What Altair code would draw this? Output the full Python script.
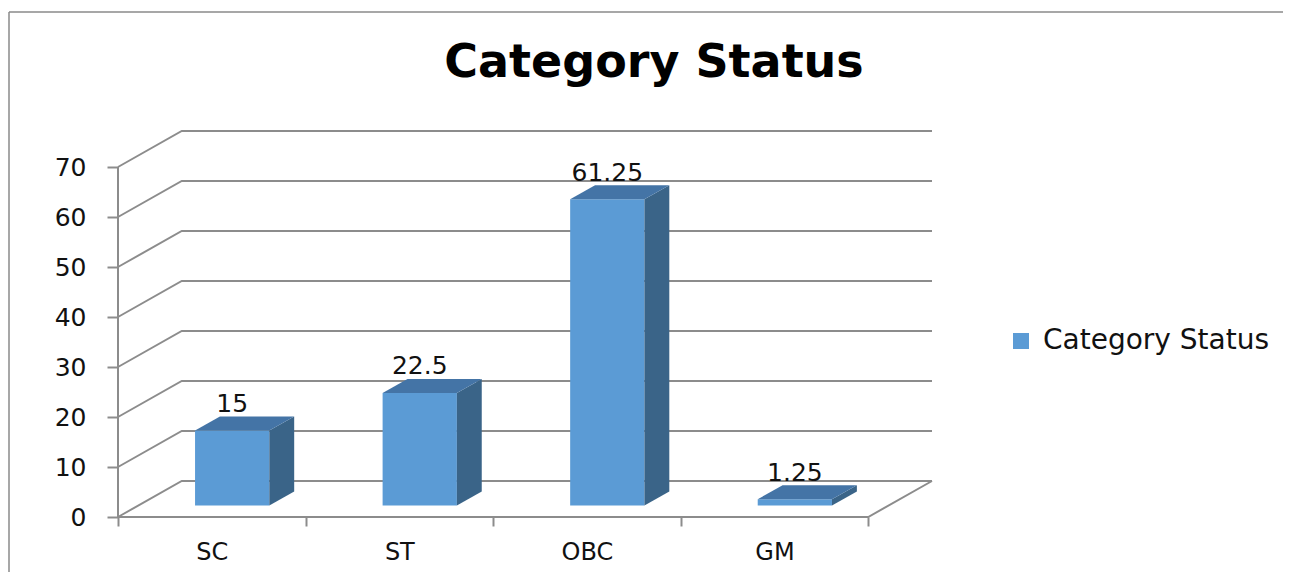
import json
import altair as alt
import pandas as pd

# ---------------- data ----------------
categories = ["SC", "ST", "OBC", "GM"]
values = [15, 22.5, 61.25, 1.25]
value_labels = ["15", "22.5", "61.25", "1.25"]
series_name = "Category Status"
chart_title = "Category Status"
y_ticks = [0, 10, 20, 30, 40, 50, 60, 70]

# ---------------- geometry / style ----------------
W, H = 814, 386                 # plot area size
DX, DY = 0.34, 7.2              # depth of the 3-D box (x units / value units)
F1, F2 = 0.32, 0.71             # bar front / back depth fractions
HALF = 0.198                    # half bar width (x units)
YMAX = max(y_ticks)
XN = len(categories)
FONT = "DejaVu Sans"
GRID = "#8c8c8c"
FRONT_C, TOP_C, SIDE_C = "#5B9BD5", "#4474A6", "#3A6488"

bx1, by1 = F1 * DX, F1 * DY
bdx, bdy = (F2 - F1) * DX, (F2 - F1) * DY

xscale = alt.Scale(domain=[0, XN + DX], nice=False, zero=False)
yscale = alt.Scale(domain=[0, YMAX + DY], nice=False, zero=False)

label_expr = f"{json.dumps(categories)}[datum.value] || ''"
half_cat_px = W / (XN + DX) / 2

xaxis = alt.Axis(values=list(range(XN + 1)), labelExpr=label_expr,
                 labelOffset=half_cat_px, tickSize=9, tickColor=GRID, tickWidth=2,
                 domain=False, grid=False, labelFontSize=24, labelFont=FONT,
                 labelColor="#111111", labelPadding=14, labelFlush=False,
                 labelOverlap=False, title=None)
yaxis = alt.Axis(values=y_ticks, tickSize=11, tickColor=GRID, tickWidth=2,
                 domain=False, grid=False, labelFontSize=25, labelFont=FONT,
                 labelColor="#111111", labelPadding=21, title=None)


def X(field):
    return alt.X(field, scale=xscale, axis=xaxis)


def Y(field):
    return alt.Y(field, scale=yscale, axis=yaxis)


# front faces
front = pd.DataFrame({"cat": categories, "value": values,
                      "label": value_labels, "series": series_name})
front["i"] = range(XN)
front["xc"] = front["i"] + 0.5 + bx1
front["x"] = front["xc"] - HALF
front["x2"] = front["xc"] + HALF
front["y"] = by1
front["y2"] = by1 + front["value"]
front["ylab"] = front["y2"] + bdy + 0.9

# side and top faces (parallelograms as areas)
side_rows, top_rows = [], []
for r in front.to_dict("records"):
    side_rows.append({"cat": r["cat"], "x": r["x2"], "y": by1, "y2": r["y2"]})
    side_rows.append({"cat": r["cat"], "x": r["x2"] + bdx, "y": by1 + bdy, "y2": r["y2"] + bdy})
    top_rows.append({"cat": r["cat"], "y": r["y2"], "x": r["x"], "x2": r["x2"]})
    top_rows.append({"cat": r["cat"], "y": r["y2"] + bdy, "x": r["x"] + bdx, "x2": r["x2"] + bdx})
side = pd.DataFrame(side_rows)
top = pd.DataFrame(top_rows)

# gridlines: left wall diagonal + back wall horizontal
grid_rows = []
for t in y_ticks:
    grid_rows += [{"t": t, "o": 0, "x": 0, "y": t},
                  {"t": t, "o": 1, "x": DX, "y": t + DY},
                  {"t": t, "o": 2, "x": XN + DX, "y": t + DY}]
grid = pd.DataFrame(grid_rows)

floor = pd.DataFrame([{"o": 0, "x": 0, "y": 0}, {"o": 1, "x": XN, "y": 0},
                      {"o": 2, "x": XN + DX, "y": DY}])
vaxis = pd.DataFrame([{"o": 0, "x": 0, "y": 0}, {"o": 1, "x": 0, "y": YMAX}])

grid_layer = alt.Chart(grid).mark_line(color=GRID, strokeWidth=2).encode(
    x=X("x:Q"), y=Y("y:Q"), detail="t:N", order="o:Q")

floor_layer = alt.Chart(floor).mark_line(color=GRID, strokeWidth=2).encode(
    x=X("x:Q"), y=Y("y:Q"), order="o:Q")

vaxis_layer = alt.Chart(vaxis).mark_line(color=GRID, strokeWidth=2).encode(
    x=X("x:Q"), y=Y("y:Q"), order="o:Q")

front_layer = alt.Chart(front).mark_rect().encode(
    x=X("x:Q"), x2="x2:Q", y=Y("y:Q"), y2="y2:Q",
    color=alt.Color("series:N", scale=alt.Scale(domain=[series_name], range=[FRONT_C]),
                    legend=alt.Legend(title=None, orient="none", legendX=889, legendY=196,
                                      symbolType="square", symbolSize=256,
                                      symbolStrokeWidth=0, symbolOpacity=1,
                                      labelFontSize=28, labelFont=FONT, labelLimit=0,
                                      labelColor="#111111", labelOffset=8, padding=0)))

side_layer = alt.Chart(side).mark_area(color=SIDE_C, opacity=1).encode(
    x=X("x:Q"), y=Y("y:Q"), y2="y2:Q", detail="cat:N")

top_layer = alt.Chart(top).mark_area(color=TOP_C, opacity=1, orient="horizontal").encode(
    y=Y("y:Q"), x=X("x:Q"), x2="x2:Q", detail="cat:N")

label_layer = alt.Chart(front).mark_text(fontSize=25, font=FONT, color="#111111",
                                         baseline="alphabetic", align="center").encode(
    x=X("xc:Q"), y=Y("ylab:Q"), text="label:N")

title_layer = alt.Chart(pd.DataFrame({"t": [chart_title]})).mark_text(
    fontSize=46, font=FONT, fontWeight="bold", color="#000000",
    baseline="alphabetic", align="center").encode(
    text="t:N", x=alt.value(536), y=alt.value(-54))

frame_df = pd.DataFrame({"k": [0]})
frame_v = alt.Chart(frame_df).mark_rule(color="#8a8a8a", strokeWidth=1.5).encode(
    x=alt.value(-109), y=alt.value(-119), y2=alt.value(470))
frame_h = alt.Chart(frame_df).mark_rule(color="#8a8a8a", strokeWidth=1.5).encode(
    x=alt.value(-109), x2=alt.value(1200), y=alt.value(-119))

chart = alt.layer(
    grid_layer, floor_layer, vaxis_layer,
    front_layer, side_layer, top_layer, label_layer, title_layer, frame_v, frame_h
).properties(
    width=W, height=H,
    autosize=alt.AutoSizeParams(type="none"),
    padding={"left": 110, "top": 123, "right": 351, "bottom": 55},
).configure(font=FONT).configure_view(stroke="transparent", strokeWidth=0)

chart.save("out.html", embed_options={"renderer": "svg", "actions": False})
